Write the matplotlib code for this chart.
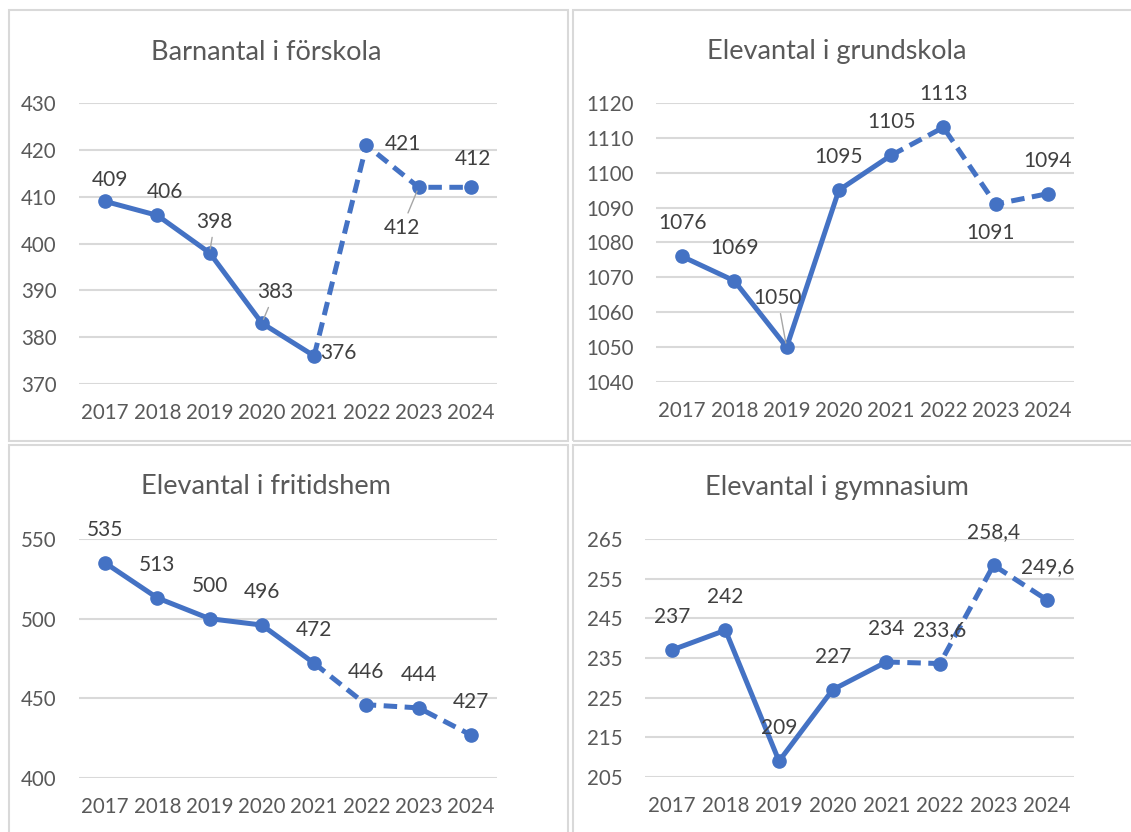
import matplotlib.pyplot as plt
from matplotlib.patches import Rectangle

years = ['2017', '2018', '2019', '2020', '2021', '2022', '2023', '2024']

forskola = [409, 406, 398, 383, 376, 421, 412, 412]
grundskola = [1076, 1069, 1050, 1095, 1105, 1113, 1091, 1094]
fritidshem = [535, 513, 500, 496, 472, 446, 444, 427]
gymnasium = [237, 242, 209, 227, 234, 233.6, 258.4, 249.6]

titles = ['Barnantal i förskola', 'Elevantal i grundskola',
          'Elevantal i fritidshem', 'Elevantal i gymnasium']

W, H = 1131, 832
BLUE = '#4472C4'
GRID = '#d9d9d9'
TICK = '#595959'
LABEL = '#404040'

plt.rcParams['font.family'] = ['Lato', 'DejaVu Sans']


def fmt(v):
    if float(v).is_integer():
        return str(int(v))
    return str(v).replace('.', ',')


# label placement (pixel offsets from the point), leader line flag
UP = (0, 33, False)
label_pos = [
    [(5, 21, False), (8, 23, False), (5, 31, True), (13, 31, True),
     (24, 3, False), (37, 1, False), (-17, -41, True), (2, 28, False)],
    [UP, UP, (-9, 49, True), UP, UP, UP, (-5, -29, False), UP],
    [UP] * 8,
    [UP] * 8,
]

# axes boxes in pixels: left, top, right, bottom
boxes = [(79, 103, 497, 384), (656, 103, 1074, 382),
         (79, 539, 497, 778), (645, 539, 1074, 777)]
ylims = [(370, 430, 10), (1040, 1120, 10), (400, 550, 50), (205, 265, 10)]
title_pos = [(266, 52), (837, 52), (266, 487), (837, 487)]
panels = [(9, 10, 568, 441), (573, 10, 1140, 441),
          (9, 445, 568, 840), (573, 445, 1140, 840)]
series = [forskola, grundskola, fritidshem, gymnasium]

fig = plt.figure(figsize=(W / 100, H / 100), dpi=100)

for (x0, y0, x1, y1) in panels:
    fig.patches.append(Rectangle((x0 / W, 1 - y1 / H), (x1 - x0) / W, (y1 - y0) / H,
                                 transform=fig.transFigure, fill=False,
                                 edgecolor=GRID, linewidth=1.5))

for i, vals in enumerate(series):
    l, t, r, b = boxes[i]
    ax = fig.add_axes([l / W, 1 - b / H, (r - l) / W, (b - t) / H])
    x = list(range(len(years)))
    ax.plot(x[:5], vals[:5], color=BLUE, lw=3.6, solid_capstyle='round', zorder=3)
    ax.plot(x[4:], vals[4:], color=BLUE, lw=3.6, dashes=(2.7, 1.5), zorder=3)
    ax.plot(x, vals, 'o', color=BLUE, ms=9.5, zorder=4)

    lo, hi, step = ylims[i]
    ax.set_ylim(lo, hi)
    ax.set_yticks(range(lo, hi + 1, step))
    ax.set_xlim(-0.5, len(years) - 0.5)
    ax.set_xticks(x)
    ax.set_xticklabels(years)
    ax.grid(axis='y', color=GRID, lw=1.5)
    ax.set_axisbelow(True)
    for s in ax.spines.values():
        s.set_visible(False)
    ax.tick_params(length=0, labelsize=14.8, labelcolor=TICK)
    ax.tick_params(axis='y', pad=16)
    ax.tick_params(axis='x', pad=14)

    for j, v in enumerate(vals):
        dx, dy, leader = label_pos[i][j]
        kw = {}
        if leader:
            kw['arrowprops'] = dict(arrowstyle='-', color='#a6a6a6', lw=1,
                                    shrinkA=2, shrinkB=3)
        ax.annotate(fmt(v), (j, v), xytext=(dx, dy), textcoords='offset pixels',
                    ha='center', va='center', fontsize=15, color=LABEL,
                    zorder=5, **kw)

    tx, ty = title_pos[i]
    fig.text(tx / W, 1 - ty / H, titles[i], ha='center', va='center',
             fontsize=19.5, color=TICK)

fig.savefig('out.png', dpi=100, facecolor='white')
